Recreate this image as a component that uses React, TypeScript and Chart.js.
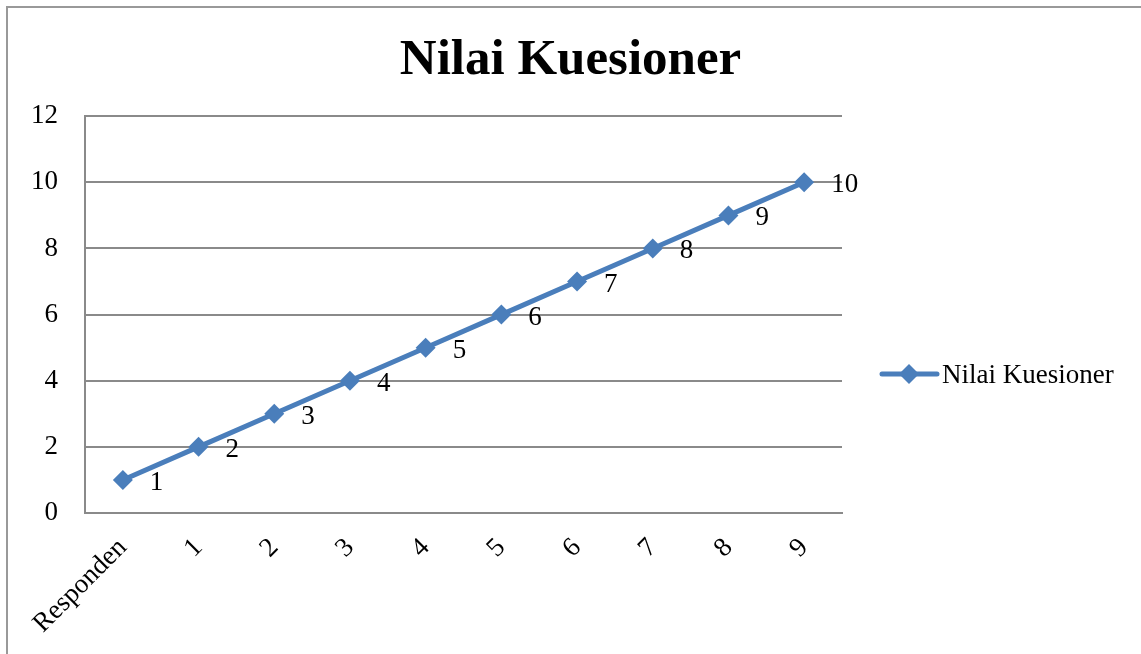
import React, { useEffect, useRef } from 'react';
import { Chart, registerables } from 'chart.js';

Chart.register(...registerables);

const titleText = 'Nilai Kuesioner';
const seriesName = 'Nilai Kuesioner';
const categories = ['Responden', '1', '2', '3', '4', '5', '6', '7', '8', '9'];
const values = [1, 2, 3, 4, 5, 6, 7, 8, 9, 10];
const yMin = 0;
const yMax = 12;
const yStep = 2;

const FONT = '"Liberation Serif", "Times New Roman", serif';
const LINE_COLOR = '#4a7ebb';
const GRID_COLOR = '#8a8a8a';

const dataLabels = {
  id: 'dataLabels',
  afterDatasetsDraw(chart: any) {
    const ctx = chart.ctx;
    const meta = chart.getDatasetMeta(0);
    const data = chart.data.datasets[0].data as number[];
    ctx.save();
    ctx.font = `27px ${FONT}`;
    ctx.fillStyle = '#000';
    ctx.textAlign = 'left';
    ctx.textBaseline = 'alphabetic';
    meta.data.forEach((pt: any, i: number) => {
      ctx.fillText(String(data[i]), pt.x + 27, pt.y + 10);
    });
    ctx.restore();
  },
};

const lineLegend = {
  id: 'lineLegend',
  afterDraw(chart: any) {
    const ctx = chart.ctx;
    const ds = chart.data.datasets[0];
    const x0 = chart.chartArea.right + 40;
    const y = 374;
    ctx.save();
    ctx.strokeStyle = LINE_COLOR;
    ctx.lineWidth = 5;
    ctx.lineCap = 'round';
    ctx.beginPath();
    ctx.moveTo(x0, y);
    ctx.lineTo(x0 + 55, y);
    ctx.stroke();
    const cx = x0 + 27;
    const r = 10;
    ctx.fillStyle = LINE_COLOR;
    ctx.beginPath();
    ctx.moveTo(cx - r, y);
    ctx.lineTo(cx, y - r);
    ctx.lineTo(cx + r, y);
    ctx.lineTo(cx, y + r);
    ctx.closePath();
    ctx.fill();
    ctx.font = `27px ${FONT}`;
    ctx.fillStyle = '#000';
    ctx.textAlign = 'left';
    ctx.textBaseline = 'alphabetic';
    ctx.fillText(ds.label, x0 + 60, y + 9);
    ctx.restore();
  },
};

export default function App() {
  const ref = useRef<HTMLCanvasElement>(null);

  useEffect(() => {
    if (!ref.current) return;
    const chart = new Chart(ref.current, {
      type: 'line',
      data: {
        labels: categories,
        datasets: [
          {
            label: seriesName,
            data: values,
            borderColor: LINE_COLOR,
            backgroundColor: LINE_COLOR,
            borderWidth: 5,
            pointStyle: 'rectRot',
            pointRadius: 10,
            pointBorderWidth: 0,
            pointBackgroundColor: LINE_COLOR,
            tension: 0,
            clip: false as any,
            yAxisID: 'y',
          },
        ],
      },
      options: {
        animation: false,
        responsive: false,
        layout: { padding: { left: 0, right: 0, top: 0, bottom: 0 } },
        plugins: {
          legend: { display: false },
          tooltip: { enabled: false },
          title: {
            display: true,
            text: titleText,
            color: '#000',
            font: { family: FONT, size: 51, weight: 'bold', lineHeight: 1.2 },
            padding: { top: 30, bottom: 25 },
          },
        },
        scales: {
          x: {
            type: 'category',
            offset: true,
            grid: { display: true, color: 'transparent', drawTicks: false },
            border: { display: true, color: GRID_COLOR, width: 2 },
            ticks: {
              autoSkip: false,
              minRotation: 45,
              maxRotation: 45,
              padding: 19,
              color: '#000',
              font: { family: FONT, size: 27 },
            },
            afterFit: (s: any) => {
              s.height = 141;
            },
          },
          y: {
            min: yMin,
            max: yMax,
            position: 'left',
            grid: { color: GRID_COLOR, lineWidth: 2, drawTicks: false },
            border: { display: true, color: GRID_COLOR, width: 2 },
            ticks: {
              stepSize: yStep,
              padding: 27,
              color: '#000',
              font: { family: FONT, size: 27 },
            },
            afterFit: (s: any) => {
              s.width = 85;
            },
          },
          yRight: {
            position: 'right',
            display: true,
            grid: { display: false, drawTicks: false },
            border: { display: false },
            ticks: { display: false },
            afterFit: (s: any) => {
              s.width = 299;
            },
          },
        },
      },
      plugins: [dataLabels, lineLegend],
    } as any);
    return () => chart.destroy();
  }, []);

  return (
    <div
      style={{
        position: 'fixed',
        left: 0,
        top: 0,
        width: 1141,
        height: 654,
        background: '#fff',
        overflow: 'hidden',
      }}
    >
      <div
        style={{
          position: 'absolute',
          left: 6,
          top: 6,
          width: 1200,
          height: 700,
          borderLeft: '2px solid #999',
          borderTop: '2px solid #999',
        }}
      />
      <canvas
        ref={ref}
        width={1141}
        height={654}
        style={{ position: 'absolute', left: 0, top: 0 }}
      />
    </div>
  );
}
